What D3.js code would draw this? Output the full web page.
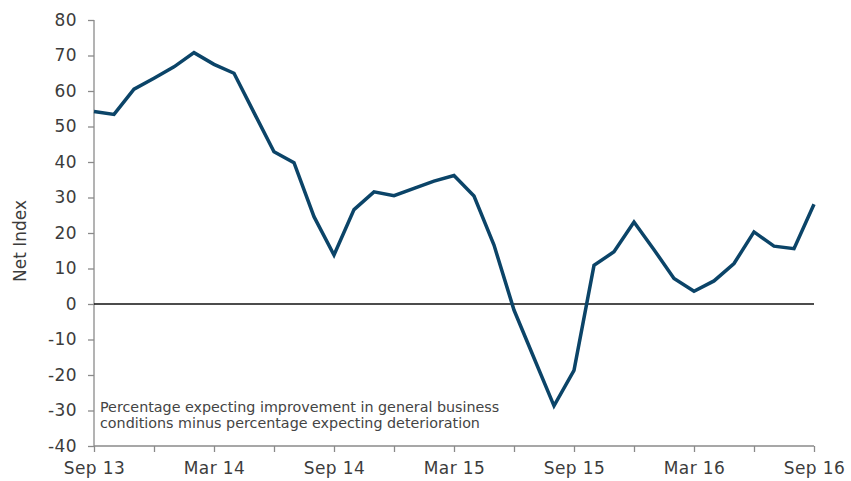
<!DOCTYPE html>
<html>
<head>
<meta charset="utf-8">
<script src="https://cdn.jsdelivr.net/npm/d3@7"></script>
<style>
  body { margin: 0; background: #fff; }
  text { font-family: "DejaVu Sans", sans-serif; }
</style>
</head>
<body>
<div id="chart-area"></div>
<script>
// monthly net index, Sep 13 .. Sep 16 (37 months)
const netIndex = [
  54.2, 53.4, 60.5, 63.6, 66.8, 70.8, 67.5, 65.0, 53.9, 42.9,
  39.8, 24.6, 13.8, 26.6, 31.6, 30.5, 32.6, 34.6, 36.2, 30.4,
  16.6, -1.7, -15.2, -28.7, -18.7, 10.9, 14.7, 23.1, 15.3, 7.2,
  3.6, 6.5, 11.4, 20.3, 16.3, 15.6, 28.1
]
// x ticks every 3 months, labels every 6
const xTickMonths = [0, 3, 6, 9, 12, 15, 18, 21, 24, 27, 30, 33, 36]
const xTickLabels = ["Sep 13", "", "Mar 14", "", "Sep 14", "", "Mar 15", "", "Sep 15", "", "Mar 16", "", "Sep 16"]
const yTicks = [-40, -30, -20, -10, 0, 10, 20, 30, 40, 50, 60, 70, 80]
const noteLines = [
  "Percentage expecting improvement in general business",
  "conditions minus percentage expecting deterioration"
]

const MARGIN = { left: 94, right: 37, top: 20, bottom: 35 }
const SVG_WIDTH = 851
const SVG_HEIGHT = 481
const G_WIDTH = SVG_WIDTH - MARGIN.left - MARGIN.right
const G_HEIGHT = SVG_HEIGHT - MARGIN.top - MARGIN.bottom

const svg = d3.select("#chart-area").append("svg")
  .attr("width", SVG_WIDTH)
  .attr("height", SVG_HEIGHT)

const g = svg.append("g")
  .attr("transform", `translate(${MARGIN.left}, ${MARGIN.top})`)

const x = d3.scaleLinear()
  .domain([0, netIndex.length - 1])
  .range([0, G_WIDTH])

const y = d3.scaleLinear()
  .domain([-40, 80])
  .range([G_HEIGHT, 0])

// axes
const xAxisCall = d3.axisBottom(x)
  .tickValues(xTickMonths)
  .tickSize(6)
  .tickFormat((d, i) => xTickLabels[i])

const xAxis = g.append("g")
  .attr("transform", `translate(0, ${G_HEIGHT})`)
  .call(xAxisCall)

const yAxisCall = d3.axisLeft(y)
  .tickValues(yTicks)
  .tickSize(6)
  .tickPadding(11)
  .tickFormat(d => String(d))

const yAxis = g.append("g").call(yAxisCall)

g.selectAll(".domain, .tick line")
  .attr("stroke", "#8a8a8a")
  .attr("stroke-width", 1.3)
xAxis.select(".domain").attr("d", `M0,0H${G_WIDTH}`)
yAxis.select(".domain").attr("d", `M0,0V${G_HEIGHT}`)

g.selectAll(".tick text")
  .attr("fill", "#3c3c3c")
  .attr("font-size", "17px")
  .attr("font-family", "DejaVu Sans, sans-serif")
  .attr("letter-spacing", "0.4px")
xAxis.selectAll(".tick text").attr("dy", "1.15em").attr("y", 8)

// zero line
g.append("line")
  .attr("x1", 0)
  .attr("x2", G_WIDTH)
  .attr("y1", y(0))
  .attr("y2", y(0))
  .attr("stroke", "#111")
  .attr("stroke-width", 1.5)

// series
const line = d3.line()
  .x((d, i) => x(i))
  .y(d => y(d))

g.append("path")
  .datum(netIndex)
  .attr("fill", "none")
  .attr("stroke", "#0b4468")
  .attr("stroke-width", 3.5)
  .attr("d", line)

// labels
svg.append("text")
  .attr("transform", "rotate(-90)")
  .attr("x", -241)
  .attr("y", 26)
  .attr("font-size", "17px")
  .attr("fill", "#3c3c3c")
  .attr("text-anchor", "middle")
  .text("Net Index")

svg.append("g")
  .selectAll("text")
  .data(noteLines)
  .enter().append("text")
  .attr("x", 100)
  .attr("y", (d, i) => 411.5 + i * 16.5)
  .attr("font-size", "14.3px")
  .attr("fill", "#444")
  .text(d => d)
</script>
</body>
</html>
